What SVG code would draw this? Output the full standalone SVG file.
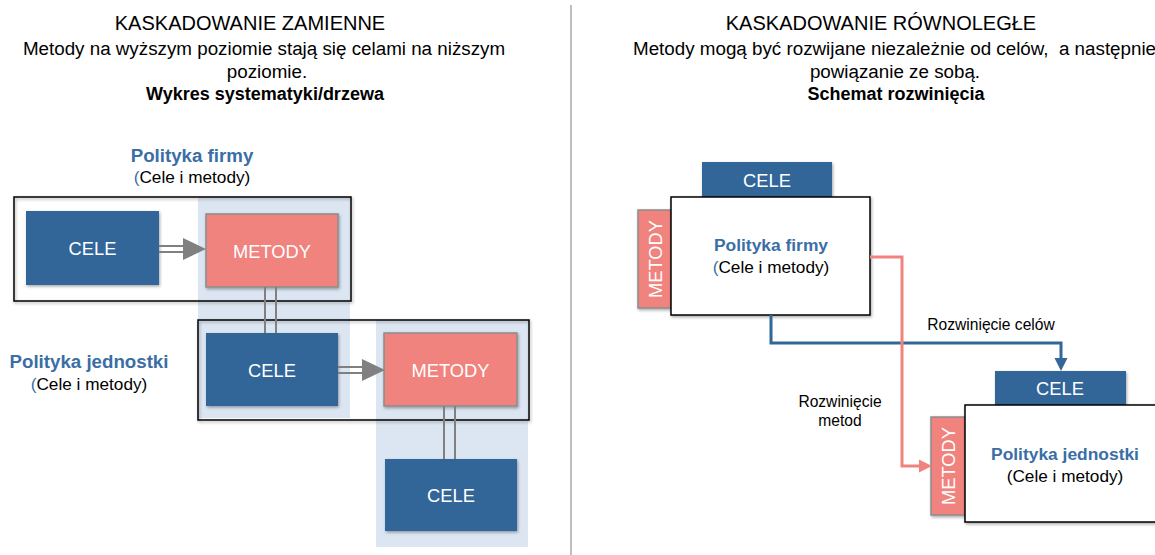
<svg xmlns="http://www.w3.org/2000/svg" width="1155" height="555" viewBox="0 0 1155 555">
  <style>
    text { font-family: "Liberation Sans", Arial, sans-serif; }
    .title { font-size: 20px; fill: #000; text-anchor: middle; }
    .sub { font-size: 18.8px; fill: #000; text-anchor: middle; }
    .subb { font-size: 18px; font-weight: bold; fill: #000; text-anchor: middle; }
    .pol { font-size: 18.7px; font-weight: bold; fill: #3A6EA5; text-anchor: middle; }
    .pol-in { font-size: 17.4px; font-weight: bold; fill: #3A6EA5; text-anchor: middle; }
    .cm { font-size: 17.2px; fill: #000; text-anchor: middle; }
    .paren { fill: #3A6EA5; }
    .lbl { font-size: 15.6px; fill: #000; text-anchor: middle; }
    .boxtxt { font-size: 18.3px; fill: #fff; text-anchor: middle; }
    .cele { fill: #336699; }
    .metody { fill: #F0837E; stroke: #8C8C8C; stroke-width: 1.5; }
    .band { fill: #DCE6F2; }
    .frame { fill: none; stroke: #000; stroke-width: 1.5; }
    .card { fill: #fff; stroke: #000; stroke-width: 1.5; }
    .dbl { stroke: #808080; stroke-width: 2; }
    .head { fill: #808080; }
  </style>
  <defs>
    <filter id="shadow" x="-10%" y="-10%" width="125%" height="130%">
      <feDropShadow dx="1" dy="1.5" stdDeviation="1.5" flood-color="#000" flood-opacity="0.35"/>
    </filter>
  </defs>

  <!-- headings -->
  <g id="heading-left">
    <text class="title" x="250" y="30">KASKADOWANIE ZAMIENNE</text>
    <text class="sub" x="264" y="55">Metody na wyższym poziomie stają się celami na niższym</text>
    <text class="sub" x="267" y="78">poziomie.</text>
    <text class="subb" x="265" y="100">Wykres systematyki/drzewa</text>
  </g>
  <g id="heading-right">
    <text class="title" x="881" y="30">KASKADOWANIE RÓWNOLEGŁE</text>
    <text class="sub" x="633" y="55" style="text-anchor:start">Metody mogą być rozwijane niezależnie od celów,&#160; a następnie</text>
    <text class="sub" x="895" y="78">powiązanie ze sobą.</text>
    <text class="subb" x="896" y="100">Schemat rozwinięcia</text>
  </g>

  <line id="divider" x1="571" y1="5" x2="571" y2="555" stroke="#7F7F7F" stroke-width="1"/>

  <!-- left: tree cascade -->
  <g id="bands">
    <rect class="band" x="198" y="197" width="152" height="221"/>
    <rect class="band" x="376" y="320" width="152" height="227"/>
  </g>

  <g id="label-firm-left">
    <text class="pol" x="192" y="162">Polityka firmy</text>
    <text class="cm" x="192" y="183"><tspan class="paren">(</tspan>Cele i metody)</text>
  </g>
  <g id="label-unit-left">
    <text class="pol" x="89" y="368">Polityka jednostki</text>
    <text class="cm" x="89" y="390"><tspan class="paren">(</tspan>Cele i metody)</text>
  </g>

  <g id="frame-firm"><rect class="frame" x="14" y="197" width="337" height="104" filter="url(#shadow)"/></g>
  <g id="frame-unit"><rect class="frame" x="198" y="320" width="331" height="100" filter="url(#shadow)"/></g>

  <g id="cele-1">
    <rect class="cele" x="26" y="211" width="133" height="74" filter="url(#shadow)"/>
    <text class="boxtxt" x="92.5" y="254.5">CELE</text>
  </g>
  <g id="metody-1">
    <rect class="metody" x="206" y="214" width="132" height="73" filter="url(#shadow)"/>
    <text class="boxtxt" x="272" y="257.5">METODY</text>
  </g>
  <g id="cele-2">
    <rect class="cele" x="206" y="333" width="132" height="73" filter="url(#shadow)"/>
    <text class="boxtxt" x="272" y="376.5">CELE</text>
  </g>
  <g id="metody-2">
    <rect class="metody" x="384" y="333" width="133" height="73" filter="url(#shadow)"/>
    <text class="boxtxt" x="450.5" y="376.5">METODY</text>
  </g>
  <g id="cele-3">
    <rect class="cele" x="385" y="459" width="132" height="72" filter="url(#shadow)"/>
    <text class="boxtxt" x="451" y="501.5">CELE</text>
  </g>

  <g id="tree-connectors">
    <line class="dbl" x1="159" y1="246" x2="185" y2="246"/>
    <line class="dbl" x1="159" y1="252" x2="185" y2="252"/>
    <polygon class="head" points="183,238 206,249 183,260"/>
    <line class="dbl" x1="265" y1="287" x2="265" y2="333"/>
    <line class="dbl" x1="276" y1="287" x2="276" y2="333"/>
    <line class="dbl" x1="338" y1="367" x2="364" y2="367"/>
    <line class="dbl" x1="338" y1="373" x2="364" y2="373"/>
    <polygon class="head" points="362,359 385,370 362,381"/>
    <line class="dbl" x1="444" y1="406" x2="444" y2="459"/>
    <line class="dbl" x1="455" y1="406" x2="455" y2="459"/>
  </g>

  <!-- right: parallel cascade -->
  <g id="policy-firm-right">
    <rect class="cele" x="702" y="162" width="130" height="36" filter="url(#shadow)"/>
    <text class="boxtxt" x="767" y="186.5">CELE</text>
    <rect class="metody" x="638" y="210" width="34" height="98" filter="url(#shadow)"/>
    <text class="boxtxt" transform="translate(661.5,259) rotate(-90)" x="0" y="0">METODY</text>
    <rect class="card" x="671" y="197" width="199" height="118" filter="url(#shadow)"/>
    <text class="pol-in" x="771" y="251">Polityka firmy</text>
    <text class="cm" x="771" y="273"><tspan class="paren">(</tspan>Cele i metody)</text>
  </g>

  <g id="policy-unit-right">
    <rect class="cele" x="995" y="371" width="131" height="35" filter="url(#shadow)"/>
    <text class="boxtxt" x="1060" y="395">CELE</text>
    <rect class="metody" x="931" y="417" width="35" height="98" filter="url(#shadow)"/>
    <text class="boxtxt" transform="translate(954.5,466) rotate(-90)" x="0" y="0">METODY</text>
    <rect class="card" x="965" y="405" width="200" height="117" filter="url(#shadow)"/>
    <text class="pol-in" x="1065" y="460">Polityka jednostki</text>
    <text class="cm" x="1065" y="482">(Cele i metody)</text>
  </g>

  <g id="flow-connectors">
    <polyline points="771,315 771,343 1061,343 1061,360" fill="none" stroke="#336699" stroke-width="3"/>
    <polygon points="1054.5,358 1061,371 1067.5,358" fill="#336699"/>
    <polyline points="870,257 902,257 902,466 921,466" fill="none" stroke="#F0837E" stroke-width="3"/>
    <polygon points="919,459.5 932,466 919,472.5" fill="#F0837E"/>
    <text class="lbl" x="991" y="330">Rozwinięcie celów</text>
    <text class="lbl" x="840" y="407">Rozwinięcie</text>
    <text class="lbl" x="840" y="426">metod</text>
  </g>
</svg>
